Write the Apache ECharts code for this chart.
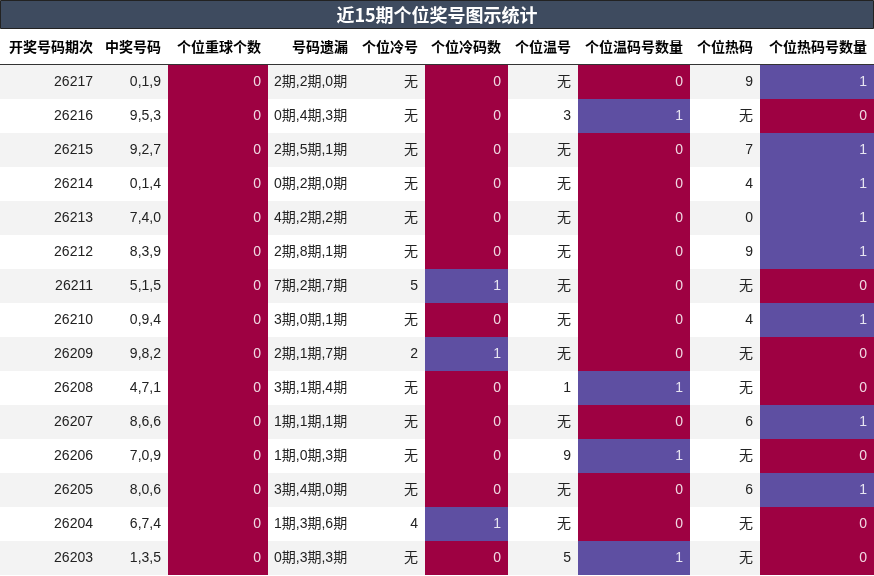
<!DOCTYPE html>
<html>
<head>
<meta charset="utf-8">
<script src="https://cdn.jsdelivr.net/npm/echarts@6/dist/echarts.min.js"></script>
<style>html,body{margin:0;padding:0;background:#fff}</style>
</head>
<body>
<div id="main" style="width:874px;height:576px"></div>
<script type="text/javascript">
var headers = ['开奖号码期次', '中奖号码', '个位重球个数', '号码遗漏', '个位冷号', '个位冷码数', '个位温号', '个位温码号数量', '个位热码', '个位热码号数量'];
var periods = ['26217', '26216', '26215', '26214', '26213', '26212', '26211', '26210', '26209', '26208', '26207', '26206', '26205', '26204', '26203'];
var nums = ['0,1,9', '9,5,3', '9,2,7', '0,1,4', '7,4,0', '8,3,9', '5,1,5', '0,9,4', '9,8,2', '4,7,1', '8,6,6', '7,0,9', '8,0,6', '6,7,4', '1,3,5'];
var repeatCnt = [0, 0, 0, 0, 0, 0, 0, 0, 0, 0, 0, 0, 0, 0, 0];
var miss = ['2期,2期,0期', '0期,4期,3期', '2期,5期,1期', '0期,2期,0期', '4期,2期,2期', '2期,8期,1期', '7期,2期,7期', '3期,0期,1期', '2期,1期,7期', '3期,1期,4期', '1期,1期,1期', '1期,0期,3期', '3期,4期,0期', '1期,3期,6期', '0期,3期,3期'];
var cold = ['无', '无', '无', '无', '无', '无', '5', '无', '2', '无', '无', '无', '无', '4', '无'];
var coldCnt = [0, 0, 0, 0, 0, 0, 1, 0, 1, 0, 0, 0, 0, 1, 0];
var warm = ['无', '3', '无', '无', '无', '无', '无', '无', '无', '1', '无', '9', '无', '无', '5'];
var warmCnt = [0, 1, 0, 0, 0, 0, 0, 0, 0, 1, 0, 1, 0, 0, 1];
var hot = ['9', '无', '7', '4', '0', '9', '无', '4', '无', '无', '6', '无', '6', '无', '无'];
var hotCnt = [1, 0, 1, 1, 1, 1, 0, 1, 0, 0, 1, 0, 1, 0, 0];

// column edges (px) and which columns are colour-coded
var edges = [0, 100, 168, 268, 355, 425, 508, 578, 690, 760, 874];
var columns = [periods, nums, repeatCnt, miss, cold, coldCnt, warm, warmCnt, hot, hotCnt];
var colored = [false, false, true, false, false, true, false, true, false, true];
var colorOf = {0: '#9e0142', 1: '#5e4fa2'};

var cells = [];
for (var r = 0; r < periods.length; r++) {
    for (var c = 0; c < columns.length; c++) {
        cells.push([c, r, columns[c][r]]);
    }
}

var graphics = [
    {type: 'rect', shape: {x: 0.5, y: 0.5, width: 873, height: 28}, style: {fill: '#3e4b5f', stroke: '#222'}},
    {type: 'text', x: 437, y: 15, style: {text: '近15期个位奖号图示统计', fill: '#fff', font: 'bold 18px "Noto Sans CJK SC"', textAlign: 'center', textVerticalAlign: 'middle'}},
    {type: 'line', shape: {x1: 0, y1: 64.5, x2: 874, y2: 64.5}, style: {stroke: '#333', lineWidth: 1}}
];
headers.forEach(function (h, i) {
    graphics.push({type: 'text', x: edges[i + 1] - 7, y: 47,
        style: {text: h, fill: '#000', font: 'bold 14px "Noto Sans CJK SC"', textAlign: 'right', textVerticalAlign: 'middle'}});
});

var myChart = echarts.init(document.getElementById('main'));
myChart.setOption({
    animation: false,
    grid: {left: 0, right: 0, top: 65, bottom: 1},
    xAxis: {type: 'value', min: 0, max: 874, show: false},
    yAxis: {type: 'category', data: periods, inverse: true, show: false},
    graphic: graphics,
    series: [{
        type: 'custom',
        data: cells,
        renderItem: function (params, api) {
            var c = api.value(0), r = api.value(1);
            var txt = columns[c][r];
            var p = api.coord([0, r]);
            var h = api.size([0, 1])[1];
            var y0 = p[1] - h / 2;
            var x0 = edges[c], w = edges[c + 1] - edges[c];
            var fill = colored[c] ? colorOf[txt] : (r % 2 === 0 ? '#f3f3f3' : '#ffffff');
            var leftAlign = c === 3;
            return {
                type: 'group',
                children: [
                    {type: 'rect', shape: {x: x0, y: y0, width: w, height: h}, style: {fill: fill}},
                    {type: 'text', x: leftAlign ? x0 + 6 : x0 + w - 7, y: p[1],
                        style: {text: String(txt), fill: colored[c] ? 'rgba(255,255,255,0.85)' : '#222',
                            font: '14px "Liberation Sans", "Noto Sans CJK SC"',
                            textAlign: leftAlign ? 'left' : 'right', textVerticalAlign: 'middle'}}
                ]
            };
        }
    }]
});
</script>
</body>
</html>
